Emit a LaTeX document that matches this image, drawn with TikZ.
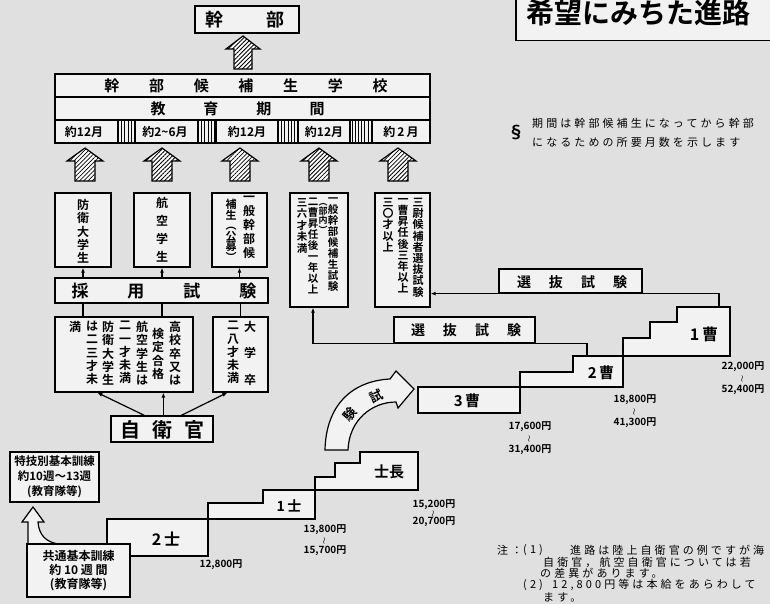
\documentclass[tikz,border=0pt]{standalone}
\usepackage{fontspec}
\setmainfont{Noto Sans CJK JP}[BoldFont={Noto Sans CJK JP Bold}]
\newfontfamily\notefont{Noto Sans CJK JP}[LetterSpace=28]
\usetikzlibrary{patterns,patterns.meta,calc,arrows.meta}
\definecolor{paper}{gray}{0.88}
\definecolor{boxfill}{gray}{0.95}
\newcommand\gp[1]{\hspace{#1pt}}
\ExplSyntaxOn
\seq_new:N \l_tate_items_seq
\NewDocumentCommand\tate{m}{
  \seq_clear:N \l_tate_items_seq
  \tl_map_inline:nn {#1} { \seq_put_right:Nn \l_tate_items_seq {##1} }
  \seq_use:Nn \l_tate_items_seq {\\}
}
\ExplSyntaxOff
\newcommand\hatchup[6]{%
  \path[hatch] (#1,#2) -- ({#1+#5},#3) -- ({#1+#6},#3) -- ({#1+#6},#4) -- ({#1-#6},#4) -- ({#1-#6},#3) -- ({#1-#5},#3) -- cycle;}
\begin{document}
\begin{tikzpicture}[x=1pt,y=-1pt,
  box/.style={draw, line width=1.3pt, fill=boxfill, inner sep=0pt},
  stair/.style={draw, line width=1.3pt, fill=boxfill},
  lab/.style={inner sep=0pt},
  tcol/.style={inner sep=0pt, align=center, anchor=north},
  hatch/.style={draw, line width=1.2pt, preaction={fill=white}, pattern={Lines[angle=45,distance=3pt,line width=0.8pt]}},
  bars/.style={draw, line width=1.3pt, pattern={Lines[angle=90,distance=3.2pt,line width=1pt]}},
  con/.style={line width=1.2pt},
  arr/.style={line width=1.2pt, -{Latex[length=5pt,width=4pt]}},
  sal/.style={inner sep=0pt, font=\fontsize{10}{12}\selectfont\bfseries},
  til/.style={inner sep=0pt, rotate=90, font=\fontsize{7}{7}\selectfont},
  big/.style={inner sep=0pt, font=\fontsize{15}{15}\selectfont\bfseries},
  note/.style={inner sep=0pt, anchor=west, font=\notefont\fontsize{11}{11}\selectfont},
]
\useasboundingbox (0,0) rectangle (770,604);
\clip (0,0) rectangle (770,604);
\fill[paper] (0,0) rectangle (770,604);

% title and explanation
\node[box, line width=1.5pt, minimum width=280, minimum height=52, anchor=north west] (title) at (515,-12) {};
\node[lab, anchor=west, font=\fontsize{28}{28}\selectfont\bfseries] (titlet) at (526,13) {希望にみちた進路};
\node[lab, font=\fontsize{17}{17}\selectfont\bfseries] (para) at (516,133) {§};
\node[note] (n1) at (532,123) {期間は幹部候補生になってから幹部};
\node[note] (n2) at (532,142) {になるための所要月数を示します};

% top
\node[box, minimum width=104, minimum height=27] (kanbu) at (247,19.5) {};
\node[lab, font=\fontsize{18}{18}\selectfont\bfseries] (kanbut) at (245,20) {幹\gp{44}部};
\hatchup{243}{36}{49}{69}{17}{9}

% table
\node[box, minimum width=375, minimum height=23] (row1) at (242.5,85.5) {};
\node[box, minimum width=375, minimum height=23] (row2) at (242.5,108.5) {};
\node[box, minimum width=375, minimum height=23] (row3) at (242.5,131.5) {};
\draw[bars] (118,120) rectangle (135,143);
\draw[bars] (198,120) rectangle (216,143);
\draw[bars] (278,120) rectangle (298,143);
\draw[bars] (350,120) rectangle (372,143);
\node[big] (row1t) at (246,86) {幹\gp{29.7}部\gp{29.7}候\gp{29.7}補\gp{29.7}生\gp{29.7}学\gp{29.7}校};
\node[big] (row2t) at (237.5,109) {教\gp{38}育\gp{38}期\gp{38}間};
\begin{scope}[every node/.style={inner sep=0pt, font=\fontsize{12}{12}\selectfont\bfseries}]
\node (c1) at (84,132) {約12月};
\node (c2) at (165,132) {約2\textasciitilde 6月};
\node (c3) at (247,132) {約12月};
\node (c4) at (324,132) {約12月};
\node (c5) at (401,132) {約\,2\,月};
\end{scope}

% hatched arrows
\hatchup{85}{148}{161}{181}{18}{10}
\hatchup{162}{148}{161}{181}{18}{10}
\hatchup{240}{148}{161}{181}{18}{10}
\hatchup{319}{148}{161}{181}{18}{10}
\hatchup{398}{148}{161}{181}{18}{10}

% column boxes
\node[box, minimum width=56, minimum height=74] (b1) at (83,230) {};
\node[box, minimum width=56, minimum height=74] (b2) at (162,230) {};
\node[box, minimum width=55, minimum height=74] (b3) at (239.5,230) {};
\node[box, minimum width=58, minimum height=114] (b4) at (319,250) {};
\node[box, minimum width=55, minimum height=114] (b5) at (402.5,250) {};

\node[tcol, font=\fontsize{12}{13.3}\selectfont\bfseries] (b1t) at (83,199) {\tate{防衛大学生}};
\node[tcol, font=\fontsize{12}{18}\selectfont\bfseries] (b2t) at (162,197) {\tate{航空学生}};
\node[tcol, font=\fontsize{12}{14}\selectfont\bfseries] (b3ta) at (249,196) {\tate{一般幹部候}};
\node[tcol, font=\fontsize{11}{10.6}\selectfont\bfseries] (b3tb) at (231,199) {\tate{補生︵公募︶}};

\node[tcol, font=\fontsize{10.5}{11}\selectfont\bfseries] (b4ta) at (333,198) {\tate{一般幹部候補生試験}};
\node[tcol, font=\fontsize{9}{8}\selectfont\bfseries] (b4tb) at (323,203) {\tate{︵部内︶}};
\node[tcol, font=\fontsize{10.5}{11}\selectfont\bfseries] (b4tc) at (313,198) {\tate{二曹昇任後一年以上}};
\node[tcol, font=\fontsize{10.5}{11.5}\selectfont\bfseries] (b4td) at (302,198) {\tate{三六才未満}};

\node[tcol, font=\fontsize{11}{11.2}\selectfont\bfseries] (b5ta) at (418,198) {\tate{三尉候補者選抜試験}};
\node[tcol, font=\fontsize{11}{11.2}\selectfont\bfseries] (b5tb) at (403,198) {\tate{一曹昇任後三年以上}};
\node[tcol, font=\fontsize{11}{11.2}\selectfont\bfseries] (b5tc) at (388,198) {\tate{三〇才以上}};

% saiyo shiken
\node[box, minimum width=213, minimum height=25] (saiyo) at (161.5,290.5) {};
\node[lab, font=\fontsize{17}{17}\selectfont\bfseries] (saiyot) at (164,291) {採\gp{39}用\gp{39}試\gp{39}験};
\draw[arr] (saiyo.north -| b1) -- (b1.south);
\draw[arr] (saiyo.north -| b2) -- (b2.south);
\draw[arr] (saiyo.north -| b3) -- (b3.south);

% qualification boxes
\node[box, minimum width=138, minimum height=75] (boxA) at (124,354.5) {};
\node[box, minimum width=55, minimum height=75] (boxB) at (240.5,354.5) {};
\draw[con] (saiyo.south -| b1) -- (boxA.north -| b1);
\draw[con] (saiyo.south -| b2) -- (boxA.north -| b2);
\draw[con] (saiyo.south -| boxB) -- (boxB.north);
\begin{scope}[every node/.style={tcol, font=\fontsize{12}{13.3}\selectfont\bfseries}]
\node (a1) at (175,321) {\tate{高校卒又は}};
\node[anchor=center] (a2) at (158,354) {\tate{検定合格}};
\node (a3) at (142,321) {\tate{航空学生は}};
\node (a4) at (125,321) {\tate{二一才未満}};
\node (a5) at (108,321) {\tate{防衛大学生}};
\node (a6) at (92,321) {\tate{は二三才未}};
\node (a7) at (75,321) {満};
\node[font=\fontsize{12}{26.5}\selectfont\bfseries] (bb1) at (250,321) {\tate{大学卒}};
\node (bb2) at (233,321) {\tate{二八才未満}};
\end{scope}

% jieikan
\node[box, minimum width=102, minimum height=26] (jieikan) at (162,429) {};
\node[lab, font=\fontsize{20}{20}\selectfont\bfseries] (jieikant) at (162,429.5) {自\gp{12}衛\gp{12}官};
\draw[arr] ($(jieikan.north west)+(34,0)$) -- ($(boxA.south west)+(43,0)$);
\draw[arr] ($(jieikan.north west)+(53,0)$) -- ($(boxA.south west)+(109,0)$);
\draw[arr] ($(jieikan.north west)+(71,0)$) -- ($(boxB.south west)+(15,0)$);

% staircase
\path[stair] (107,556) -- (107,519) -- (208,519) -- (208,556) -- cycle;
\path[stair] (208,519) -- (208,503) -- (263,503) -- (263,490) -- (315,490) -- (315,519) -- cycle;
\path[stair] (315,490) -- (315,477) -- (335,477) -- (335,463) -- (360,463) -- (360,452) -- (418,452) -- (418,490) -- cycle;
\path[stair] (418,387) rectangle (520,413);
\path[stair] (520,387) -- (520,372) -- (573,372) -- (573,356) -- (623,356) -- (623,387) -- cycle;
\path[stair] (623,356) -- (623,338) -- (650,338) -- (650,322) -- (677,322) -- (677,307) -- (730,307) -- (730,356) -- cycle;
\coordinate (s2top) at (587,356);
\coordinate (s1top) at (719,307);

\node[big, font=\fontsize{16}{16}\selectfont\bfseries] (l2shi) at (166,539) {2\,士};
\node[big, font=\fontsize{14}{14}\selectfont\bfseries] (l1shi) at (289,506) {1\,士};
\node[big] (lshicho) at (389,472) {士長};
\node[big] (l3so) at (467,401) {3\,曹};
\node[big] (l2so) at (601,373) {2\,曹};
\node[big, font=\fontsize{16}{16}\selectfont\bfseries] (l1so) at (704,334) {1\,曹};

% salaries
\node[sal] (p2shi) at (221,565) {12,800円};
\node[sal] (p1shia) at (325,530) {13,800円};
\node[til] (p1shib) at (325,540.5) {～};
\node[sal] (p1shic) at (325,551) {15,700円};
\node[sal] (pchoa) at (434,505) {15,200円};
\node[til] (pchob) at (434,513.5) {～};
\node[sal] (pchoc) at (434,522) {20,700円};
\node[sal] (p3a) at (530,427) {17,600円};
\node[til] (p3b) at (530,438.5) {～};
\node[sal] (p3c) at (530,450) {31,400円};
\node[sal] (p2a) at (635,400) {18,800円};
\node[til] (p2b) at (635,411.5) {～};
\node[sal] (p2c) at (635,423) {41,300円};
\node[sal] (p1a) at (743,367) {22,000円};
\node[til] (p1b) at (743,378.5) {～};
\node[sal] (p1c) at (743,390) {52,400円};

% selection exams
\draw[arr] (s2top) |- ($(b4.south)+(-6,36)$) -- ($(b4.south)+(-6,0)$);
\draw[arr] (s1top) |- ($(b5.south east)+(0,-14)$);
\node[box, minimum width=141, minimum height=26] (sen1) at (464.5,330) {};
\node[lab, font=\fontsize{14}{14}\selectfont\bfseries] (sen1t) at (466,330.5) {選\gp{18}抜\gp{18}試\gp{18}験};
\node[box, minimum width=143, minimum height=24] (sen2) at (570.5,281) {};
\node[lab, font=\fontsize{14}{14}\selectfont\bfseries] (sen2t) at (572,282) {選\gp{18}抜\gp{18}試\gp{18}験};

% curved exam arrow
\draw[con, fill=boxfill] (325,450) .. controls (326,405) and (352,381) .. (390,379) -- (396,371) -- (414,389) -- (398,408) -- (396,402) .. controls (372,402) and (349,420) .. (348,450) -- cycle;
\node[lab, rotate=25, font=\fontsize{13}{13}\selectfont\bfseries] (shi) at (376,396) {試};
\node[lab, rotate=50, font=\fontsize{13}{13}\selectfont\bfseries] (ken) at (350,414) {験};

% training boxes
\node[box, minimum width=89, minimum height=50, align=center, font=\fontsize{11.5}{15}\selectfont\bfseries] (tokugi) at (54.5,477) {特技別基本訓練\\約10週～13週\\(教育隊等)};
\draw[con, fill=boxfill] (28,544) -- (28,522) -- (22,522) -- (33,507) -- (44,522) -- (38,522) .. controls (39,536) and (47,542) .. (58,544) -- cycle;
\node[box, minimum width=103, minimum height=53, align=center, font=\fontsize{12}{14}\selectfont\bfseries] (kyotsu) at (78.5,570.5) {共通基本訓練\\約 10 週 間\\(教育隊等)};

% footnotes
\node[note] (f1a) at (497,550) {注：};
\node[note] (f1b) at (523,550) {(1)};
\node[note] (f1c) at (570,550) {進路は陸上自衛官の例ですが海};
\node[note] (f2) at (543,562) {自衛官，航空自衛官については若};
\node[note] (f3) at (540,573.5) {の差異があります。};
\node[note] (f4a) at (523,585) {(2)};
\node[note] (f4b) at (552,585) {12,800円等は本給をあらわして};
\node[note] (f5) at (543,597) {ます。};
\end{tikzpicture}
\end{document}
